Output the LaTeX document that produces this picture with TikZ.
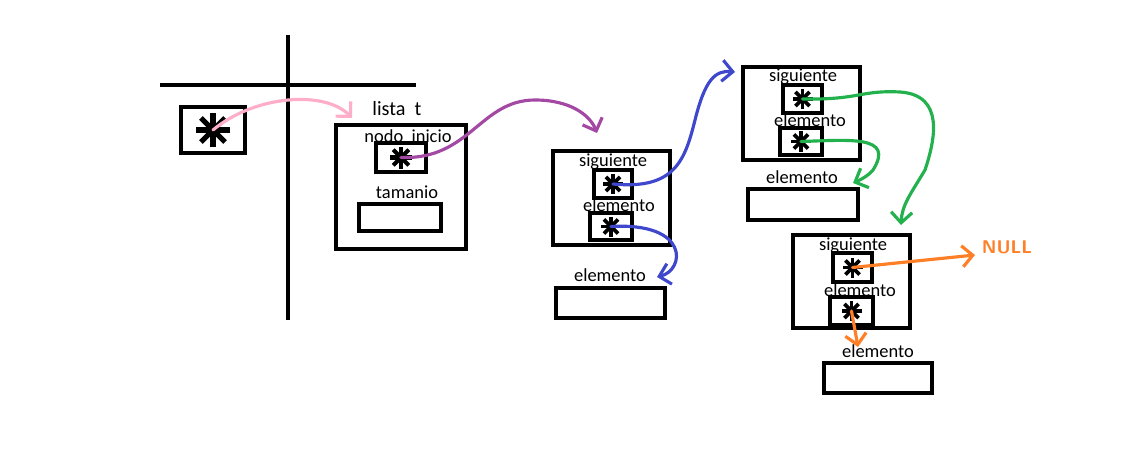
\documentclass[tikz,border=0pt]{standalone}
\usepackage{fontspec}
\setmainfont{Carlito}
\usetikzlibrary{arrows.meta,calc}

\definecolor{paintpink}{RGB}{255,174,201}
\definecolor{paintpurple}{RGB}{163,73,164}
\definecolor{paintblue}{RGB}{63,72,204}
\definecolor{paintgreen}{RGB}{34,177,76}
\definecolor{paintorange}{RGB}{255,127,39}

\tikzset{
  bigbox/.style={draw, line width=2.8pt, inner sep=0pt},
  ptrbox/.style={draw, line width=1.8pt, inner sep=0pt},
  databox/.style={draw, line width=2.3pt, inner sep=0pt},
  lbl/.style={font=\fontsize{10.5}{12}\selectfont, inner sep=0pt},
  link/.style={line width=1.8pt, line cap=round, -{Straight Barb[length=6pt,width=12pt,line width=1.8pt]}}
}

\begin{document}
\begin{tikzpicture}[x=0.02cm,y=-0.02cm]

  % Fix the page size to the reference
  \useasboundingbox (0,0) rectangle (1146,456);

  % Draw the stack / heap divider
  \draw[line width=2.3pt] (160,85) -- (416,85);
  \draw[line width=2.3pt] (288,35) -- (288,320);

  % Pointer variable on the stack
  \node[bigbox, minimum width=1.28cm, minimum height=0.92cm] (v) at (213,130) {};

  % The list header
  \node[bigbox, minimum width=2.6cm, minimum height=2.48cm] (lista) at (401,187) {};
  \node[lbl, font=\fontsize{11.5}{13}\selectfont] at (397,109) {lista\ \ t};
  \node[lbl] at (408,136) {nodo\ \ inicio};
  \node[ptrbox, minimum width=1cm, minimum height=0.58cm] (inicio) at (401,157.5) {};
  \node[lbl] at (407,192) {tamanio};
  \node[databox, minimum width=1.64cm, minimum height=0.54cm] (tam) at (400,217.5) {};

  % First node
  \node[bigbox, minimum width=2.34cm, minimum height=1.88cm] (n1) at (611.5,198) {};
  \node[lbl] at (613,162) {siguiente};
  \node[ptrbox, minimum width=0.76cm, minimum height=0.56cm] (n1sig) at (613,184) {};
  \node[lbl] at (619,205) {elemento};
  \node[ptrbox, minimum width=0.84cm, minimum height=0.54cm] (n1elem) at (611,226.5) {};
  \node[lbl] at (610,275) {elemento};
  \node[databox, minimum width=2.18cm, minimum height=0.6cm] (e1) at (610.5,303) {};

  % Second node
  \node[bigbox, minimum width=2.34cm, minimum height=1.86cm] (n2) at (801.5,113.5) {};
  \node[lbl] at (803,77) {siguiente};
  \node[ptrbox, minimum width=0.78cm, minimum height=0.56cm] (n2sig) at (802.5,99) {};
  \node[lbl] at (810,120) {elemento};
  \node[ptrbox, minimum width=0.84cm, minimum height=0.54cm] (n2elem) at (801,141.5) {};
  \node[lbl] at (802,177) {elemento};
  \node[databox, minimum width=2.2cm, minimum height=0.62cm] (e2) at (803,204.5) {};

  % Third node
  \node[bigbox, minimum width=2.34cm, minimum height=1.86cm] (n3) at (851.5,281.5) {};
  \node[lbl] at (853,246) {siguiente};
  \node[ptrbox, minimum width=0.78cm, minimum height=0.58cm] (n3sig) at (852.5,267.5) {};
  \node[lbl] at (860,290) {elemento};
  \node[ptrbox, minimum width=0.86cm, minimum height=0.56cm] (n3elem) at (851.5,311) {};
  \node[lbl] at (878,351) {elemento};
  \node[databox, minimum width=2.16cm, minimum height=0.6cm] (e3) at (878,378) {};

  \node[lbl, font=\sffamily\bfseries\fontsize{10.5}{12}\selectfont, text=paintorange] (null) at (1007,247) {NULL};

  % Asterisks inside the pointer boxes
  \foreach \p/\r/\w in {v/17/3pt,inicio/11/2.3pt,n1sig/10/2.1pt,n1elem/10/2.1pt,n2sig/10/2.1pt,n2elem/10/2.1pt,n3sig/10/2.1pt,n3elem/10/2.1pt}
    \foreach \a in {0,45,90,135}
      \draw[line width=\w] ($(\p)+(\a:\r)$) -- ($(\p)+(\a+180:\r)$);

  % Arrow end points
  \coordinate (listaIn) at (352,118);
  \coordinate (n1In) at (597,133);
  \coordinate (n2In) at (735,72);
  \coordinate (e1In) at (657,277);
  \coordinate (n3In) at (901,225);
  \coordinate (e2In) at (853,183);
  \coordinate (nullIn) at (975,255);
  \coordinate (e3In) at (858,347);

  % Draw the pointers
  \draw[link, paintpink] (v.center) .. controls (255,95) and (325,90) .. (listaIn);
  \draw[link, paintpurple] (inicio.center) .. controls (470,160) and (480,100) .. (535,100)
    .. controls (570,100) and (590,115) .. (n1In);
  \draw[link, paintblue] (n1sig.center) .. controls (675,190) and (685,160) .. (695,120)
    .. controls (705,80) and (715,70) .. (n2In);
  \draw[link, paintblue] (n1elem.center) .. controls (690,222) and (685,270) .. (e1In);
  \draw[link, paintgreen] (n2sig.center) .. controls (860,100) and (860,90) .. (900,92)
    .. controls (945,95) and (935,140) .. (925,170) .. controls (910,195) and (902,205) .. (n3In);
  \draw[link, paintgreen] (n2elem.center) .. controls (850,140) and (895,135) .. (873,170)
    .. controls (868,176) and (860,180) .. (e2In);
  \draw[link, paintorange] (n3sig.center) -- (nullIn);
  \draw[link, paintorange] (n3elem.center) -- (e3In);

\end{tikzpicture}
\end{document}
